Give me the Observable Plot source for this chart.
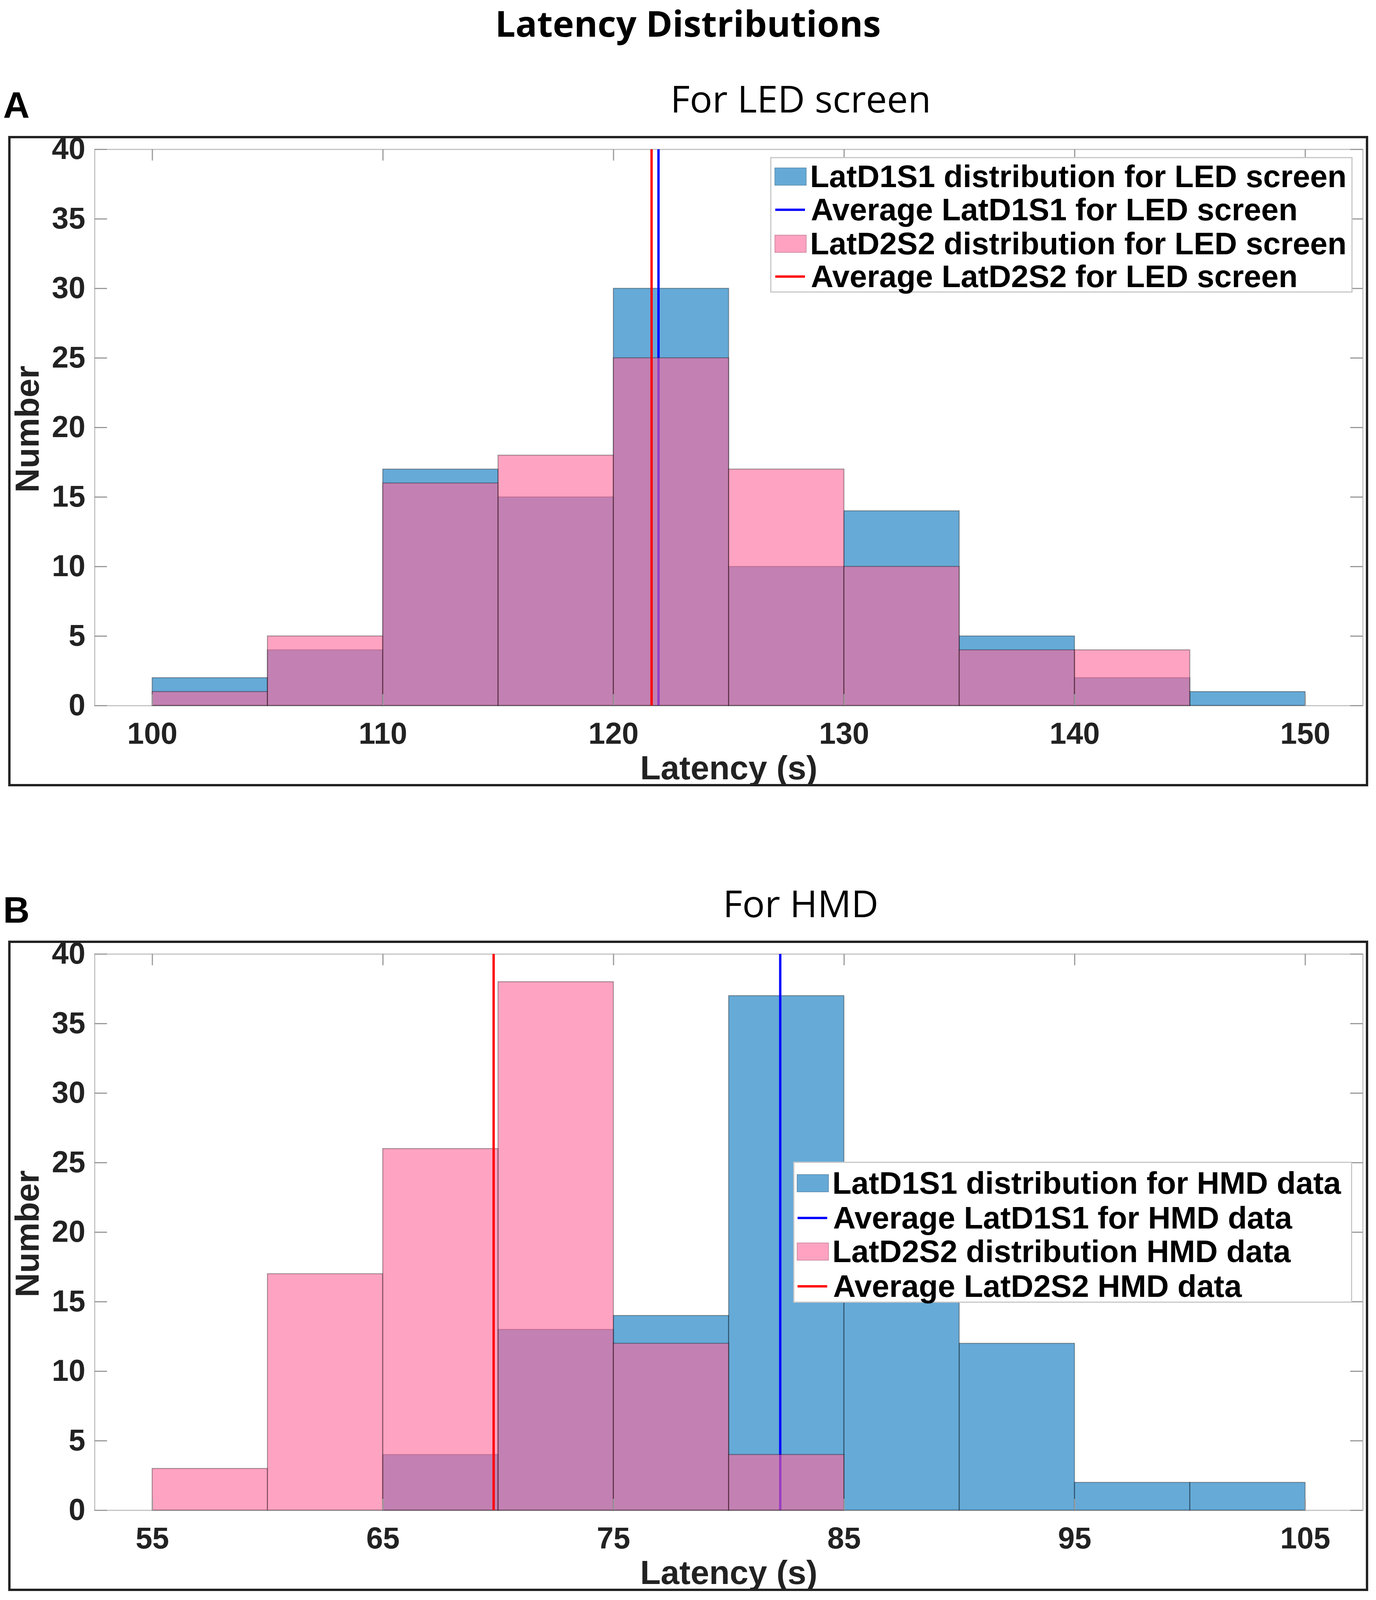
<!DOCTYPE html>
<html>
<head>
<meta charset="utf-8">
<script src="https://cdn.jsdelivr.net/npm/d3@7"></script>
<script src="https://cdn.jsdelivr.net/npm/@observablehq/plot@0.6"></script>
<style>
  html, body { margin: 0; padding: 0; background: #fff; }
  body { width: 3523px; position: relative; overflow: hidden; }
  .abs { position: absolute; }
  .title { font-family: "Open Sans", sans-serif; font-weight: 700; font-size: 92px; color: #000;
           left: 0; width: 3523px; text-align: center; line-height: 126px; height: 126px; }
  .sub { font-family: "Open Sans", sans-serif; font-weight: 400; font-size: 96px; color: #000;
         line-height: 96px; height: 96px; white-space: nowrap; transform: translateX(-50%); }
  .letter { font-family: "Liberation Sans", Arial, sans-serif; font-weight: 700; font-size: 94px; color: #000;
            line-height: 94px; height: 94px; }
  .box { border: 6px solid #222; box-sizing: border-box; }
  .legend { background: #fff; border: 3px solid #c8c8c8; box-sizing: border-box; }
  .row { position: absolute; display: flex; align-items: center; height: 80px; white-space: nowrap;
         font-family: "Liberation Sans", Arial, sans-serif; font-weight: 700; font-size: 80px; color: #000; }
  .sw { display: inline-block; width: 82px; height: 46px; margin-right: 9px; box-sizing: border-box; border: 2px solid rgba(0,0,0,0.3); }
  .ln { display: inline-block; width: 76px; height: 6px; margin-right: 15px; margin-left: 2px; }
</style>
</head>
<body>
<script>
// ---------- data ----------
const binWidth = 5;
const ledBinStarts = [100, 105, 110, 115, 120, 125, 130, 135, 140, 145];
const ledD1S1 = [2, 4, 17, 15, 30, 10, 14, 5, 2, 1];
const ledD2S2 = [1, 5, 16, 18, 25, 17, 10, 4, 4, 0];
const ledMeanD1S1 = 121.95;
const ledMeanD2S2 = 121.65;
const ledXTicks = [100, 110, 120, 130, 140, 150];

const hmdBinStarts = [55, 60, 65, 70, 75, 80, 85, 90, 95, 100];
const hmdD1S1 = [0, 0, 4, 13, 14, 37, 16, 12, 2, 2];
const hmdD2S2 = [3, 17, 26, 38, 12, 4, 0, 0, 0, 0];
const hmdMeanD1S1 = 82.23;
const hmdMeanD2S2 = 69.8;
const hmdXTicks = [55, 65, 75, 85, 95, 105];

const yTicks = [0, 5, 10, 15, 20, 25, 30, 35, 40];

const ledLegend = ["LatD1S1 distribution for LED screen", "Average LatD1S1 for LED screen",
                   "LatD2S2 distribution for LED screen", "Average LatD2S2 for LED screen"];
const hmdLegend = ["LatD1S1 distribution for HMD data", "Average LatD1S1 for HMD data",
                   "LatD2S2 distribution HMD data", "Average LatD2S2 HMD data"];

// ---------- layout ----------
// The reference is 3523 x 4452; the visible viewport may be shorter, so vertical
// positions are compressed to fit while horizontal positions stay as in the reference.
const REF_H = 4452;
const S = Math.min(1, (window.innerHeight || REF_H) / REF_H);
const sy = v => Math.round(v * S);
document.body.style.height = sy(REF_H) + "px";

const BLUE = "rgb(0,114,189)";
const PINK = "rgb(255,102,153)";
const W = 3523, H = sy(1810);
const mL = 242, mR = 34, mT = sy(37), mB = sy(225);
const plotW = W - mL - mR, plotH = H - mT - mB;
const TICKLEN = 32;

function bins(starts, counts) {
  return starts.map((s, i) => ({start: s, end: s + binWidth, count: counts[i]})).filter(d => d.count > 0);
}

function makePlot(starts, d1, d2, m1, m2, xTicks) {
  const x0 = xTicks[0] - binWidth / 2, x1 = xTicks[xTicks.length - 1] + binWidth / 2;
  const barStyle = {x1: "start", x2: "end", y1: 0, y2: "count", fillOpacity: 0.6,
                    stroke: "#000", strokeOpacity: 0.35, strokeWidth: 2.5};
  return Plot.plot({
    width: W, height: H,
    marginLeft: mL, marginRight: mR, marginTop: mT, marginBottom: mB,
    x: {domain: [x0, x1]},
    y: {domain: [0, 40]},
    style: {background: "transparent", fontFamily: "'Liberation Sans', Arial, sans-serif", color: "#222", overflow: "visible"},
    marks: [
      Plot.frame({stroke: "#c4c4c4", strokeWidth: 3}),
      Plot.rect(bins(starts, d1), {...barStyle, fill: BLUE}),
      Plot.ruleX([m1], {x: d => d, stroke: "#0000ff", strokeWidth: 6}),
      Plot.rect(bins(starts, d2), {...barStyle, fill: PINK}),
      Plot.ruleX([m2], {x: d => d, stroke: "#ff0000", strokeWidth: 6}),
      // inward ticks on all four sides
      Plot.ruleX(xTicks, {x: d => d, insetTop: plotH - sy(TICKLEN), stroke: "#9a9a9a", strokeWidth: 3}),
      Plot.ruleX(xTicks, {x: d => d, insetBottom: plotH - sy(TICKLEN), stroke: "#9a9a9a", strokeWidth: 3}),
      Plot.ruleY(yTicks, {y: d => d, insetRight: plotW - TICKLEN, stroke: "#9a9a9a", strokeWidth: 3}),
      Plot.ruleY(yTicks, {y: d => d, insetLeft: plotW - TICKLEN, stroke: "#9a9a9a", strokeWidth: 3}),
      Plot.axisX({ticks: xTicks, tickSize: 0, tickPadding: sy(47), label: null, fontSize: 77, fontWeight: "bold", fill: "#222"}),
      Plot.axisY({ticks: yTicks, tickSize: 0, tickPadding: 24, label: null, fontSize: 77, fontWeight: "bold", fill: "#222"}),
      Plot.text(["Latency (s)"], {frameAnchor: "bottom", lineAnchor: "middle", textAnchor: "middle",
        dy: sy(175), text: d => d, fontSize: 86, fontWeight: "bold", fill: "#222"}),
      Plot.text(["Number"], {frameAnchor: "left", textAnchor: "middle", lineAnchor: "middle",
        dx: -171, dy: sy(4), rotate: -90, text: d => d, fontSize: 86, fontWeight: "bold", fill: "#222"})
    ]
  });
}

function el(cls, css, text) {
  const e = document.createElement("div");
  e.className = cls;
  Object.assign(e.style, css);
  if (text != null) e.textContent = text;
  document.body.appendChild(e);
  return e;
}

function legend(labels, box, rowCenters, swLeft) {
  const lg = el("abs legend", {left: box.left + "px", top: sy(box.top) + "px", width: box.width + "px", height: sy(box.height) + "px"});
  const kinds = [["sw", BLUE], ["ln", "#0000ff"], ["sw", PINK], ["ln", "#ff0000"]];
  labels.forEach((t, i) => {
    const r = document.createElement("div");
    r.className = "row";
    r.style.left = swLeft + "px";
    r.style.top = (sy(rowCenters[i]) - 40) + "px";
    const s = document.createElement("span");
    s.className = kinds[i][0];
    s.style.background = kinds[i][1];
    if (kinds[i][0] === "sw") s.style.opacity = "0.6";
    r.appendChild(s);
    const tx = document.createElement("span");
    tx.textContent = t;
    r.appendChild(tx);
    lg.appendChild(r);
  });
}

// main title
el("abs title", {top: (sy(64) - 63) + "px"}, "Latency Distributions");

function panel(offset, letter, subtitle, plot, legendLabels, lbox, rows, swLeft) {
  el("abs letter", {left: "8px", top: (sy(293 + offset) - 47) + "px"}, letter);
  el("abs sub", {left: "2050px", top: (sy(273 + offset) - 48) + "px"}, subtitle);
  const top = sy(378 + offset);
  const holder = el("abs", {left: "0px", top: top + "px", width: W + "px", height: H + "px"});
  holder.appendChild(plot);
  el("abs box", {left: "21px", top: top + "px", width: (3503 - 21) + "px", height: H + "px"});
  legend(legendLabels, {left: lbox.left, top: lbox.top + offset, width: lbox.width, height: lbox.height}, rows, swLeft);
}

panel(0, "A", "For LED screen",
  makePlot(ledBinStarts, ledD1S1, ledD2S2, ledMeanD1S1, ledMeanD2S2, ledXTicks),
  ledLegend, {left: 1972, top: 437, width: 1491, height: 377}, [51, 143, 238, 329], 8);

panel(2239, "B", "For HMD",
  makePlot(hmdBinStarts, hmdD1S1, hmdD2S2, hmdMeanD1S1, hmdMeanD2S2, hmdXTicks),
  hmdLegend, {left: 2031, top: 993, width: 1431, height: 392}, [56, 153, 247, 344], 6);
</script>
</body>
</html>
